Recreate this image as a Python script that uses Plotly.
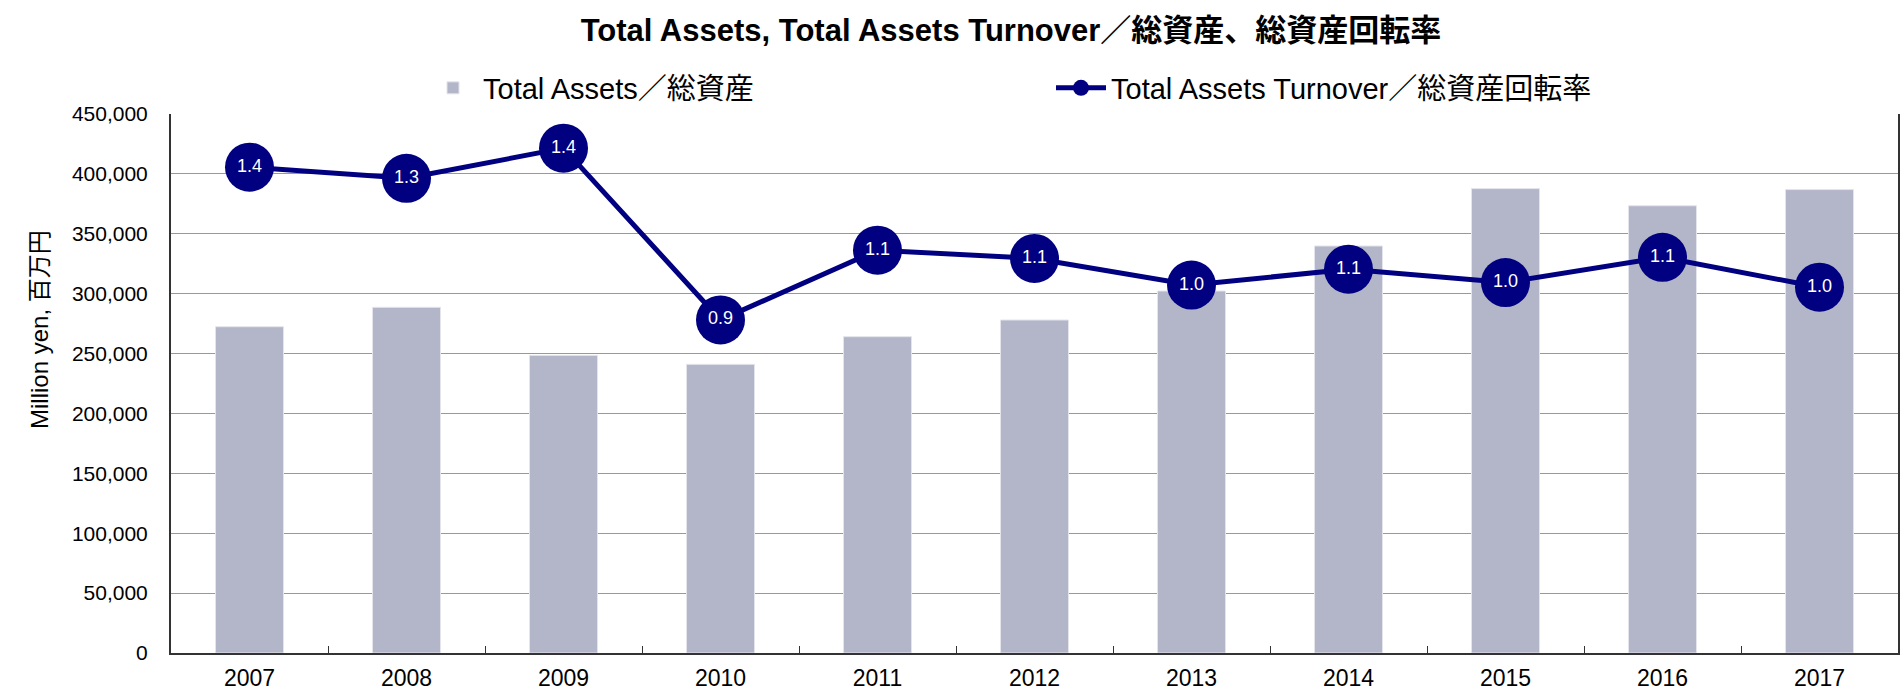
import plotly.graph_objects as go

years = ["2007", "2008", "2009", "2010", "2011", "2012", "2013", "2014", "2015", "2016", "2017"]
total_assets = [272400, 288600, 248500, 241000, 264100, 278000, 302200, 339800, 387700, 373400, 386900]
turnover = [1.352, 1.321, 1.405, 0.927, 1.121, 1.098, 1.024, 1.068, 1.031, 1.101, 1.018]
y_ticks = [0, 50000, 100000, 150000, 200000, 250000, 300000, 350000, 400000, 450000]

W, H = 1902, 691
L, R, T, B = 171, 4, 114, 38
PW, PH = W - L - R, H - T - B

def px_x(p):
    return (p - L) / PW

def px_y(p):
    return (H - B - p) / PH

fig = go.Figure()
fig.add_trace(go.Bar(
    x=years, y=total_assets, name="Total Assets／総資産",
    marker=dict(color="#B3B5C8", line=dict(color="#E4E4EC", width=1)),
    yaxis="y",
))
fig.add_trace(go.Scatter(
    x=years, y=turnover, name="Total Assets Turnover／総資産回転率",
    mode="lines+markers+text",
    text=[f"{v:.1f}" for v in turnover],
    textposition="middle center",
    textfont=dict(color="white", size=18, family="Liberation Sans, Arial, sans-serif"),
    line=dict(color="#000080", width=5),
    marker=dict(color="#000080", size=49),
    yaxis="y2",
    cliponaxis=False,
))

fig.update_layout(
    width=W, height=H,
    margin=dict(l=L, r=R, t=T, b=B, autoexpand=False),
    paper_bgcolor="white", plot_bgcolor="white",
    font=dict(family="Liberation Sans, Arial, Noto Sans CJK JP, sans-serif", color="black", size=19),
    bargap=0.567,
    showlegend=True,
    title=dict(
        text="<b>Total Assets, Total Assets Turnover／総資産、総資産回転率</b>",
        x=1011 / W, xanchor="center", xref="container",
        y=1 - 30 / H, yanchor="middle", yref="container",
        font=dict(size=31, color="black", family="Liberation Sans, Arial, Noto Sans CJK JP, sans-serif"),
    ),
    legend=dict(
        orientation="h",
        x=px_x(423), xanchor="left",
        y=px_y(88), yanchor="middle",
        font=dict(size=29, family="Liberation Sans, Arial, Noto Sans CJK JP, sans-serif"),
        itemwidth=50,
        entrywidth=563,
        bgcolor="rgba(0,0,0,0)",
        traceorder="normal",
    ),
    xaxis=dict(
        type="category",
        range=[-0.5, len(years) - 0.5],
        automargin=False,
        showline=True, linecolor="#333333", linewidth=2, mirror=False,
        ticks="inside", tickson="boundaries", ticklen=7, tickcolor="#333333", tickwidth=1,
        showgrid=False,
        ticklabelstandoff=3,
        tickfont=dict(size=23, family="Liberation Sans, Arial, sans-serif"),
    ),
    yaxis=dict(
        range=[0, 450000],
        tickvals=y_ticks,
        tickformat=",d",
        automargin=False,
        showline=True, linecolor="#333333", linewidth=2, mirror=True,
        showgrid=True, gridcolor="#999999", gridwidth=1,
        ticks="", ticklabelstandoff=17,
        tickfont=dict(size=21, family="Liberation Sans, Arial, sans-serif"),
        zeroline=False,
    ),
    yaxis2=dict(
        range=[0, 1.5], overlaying="y", side="right", visible=False,
    ),
    annotations=[dict(
        text="Million yen, 百万円",
        textangle=-90,
        x=px_x(39), y=px_y(330), xref="paper", yref="paper",
        xanchor="center", yanchor="middle", showarrow=False,
        font=dict(size=24, family="Liberation Sans, Arial, Noto Sans CJK JP, sans-serif", color="black"),
    )],
)

fig.write_html(
    "out.html",
    config={"displayModeBar": False},
    post_script="document.body.style.margin='0';document.body.style.overflow='hidden';",
)
